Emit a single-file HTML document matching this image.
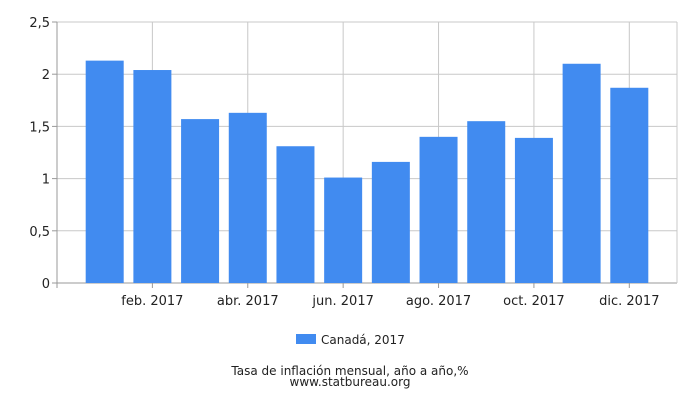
<!DOCTYPE html>
<html><head><meta charset="utf-8"><style>
body{margin:0;background:#fff;}
svg text{font-family:"DejaVu Sans","Liberation Sans",sans-serif;fill:#222;}
</style></head><body>
<svg id="c" width="700" height="400"></svg>
<script>
const categories=["ene. 2017","feb. 2017","mar. 2017","abr. 2017","may. 2017","jun. 2017","jul. 2017","ago. 2017","sep. 2017","oct. 2017","nov. 2017","dic. 2017"];
const values=[2.13,2.04,1.57,1.63,1.31,1.01,1.16,1.40,1.55,1.39,2.10,1.87];
const yTicks=[0,0.5,1,1.5,2,2.5];
const yTickLabels=["0","0,5","1","1,5","2","2,5"];
const svg=document.getElementById('c');
const NS='http://www.w3.org/2000/svg';
const L=57,R=677,T=22,B=283,yMax=2.5;
const slot=(R-L)/(categories.length+1);
const x=i=>L+(i+1)*slot;
const y=v=>B-(v/yMax)*(B-T);
function mk(t,a,p){const e=document.createElementNS(NS,t);for(const k in a)e.setAttribute(k,a[k]);(p||svg).appendChild(e);return e;}
yTicks.forEach((v,i)=>{
 const g=mk('line',{x1:L,x2:R,y1:y(v),y2:y(v),stroke:v===0?'#999':'#c8c8c8','stroke-width':1});
 
 
 mk('line',{x1:L-5,x2:L,y1:y(v),y2:y(v),stroke:'#999'});
 const t=mk('text',{x:L-7,y:y(v)+5,'text-anchor':'end','font-size':13});
 t.textContent=yTickLabels[i];
 
 
});
mk('line',{x1:L,x2:L,y1:T,y2:B,stroke:'#999'});
mk('line',{x1:R,x2:R,y1:T,y2:B,stroke:'#c8c8c8'});
categories.forEach((c,i)=>{
 if(i%2===1){
  mk('line',{x1:x(i),x2:x(i),y1:T,y2:B,stroke:'#c8c8c8'});
  mk('line',{x1:x(i),x2:x(i),y1:B,y2:B+5,stroke:'#999'});
  const t=mk('text',{x:x(i),y:B+22,'text-anchor':'middle','font-size':13});
  t.textContent=c;
  
  
 }
});
mk('line',{x1:L,x2:L,y1:B,y2:B+5,stroke:'#999'});
values.forEach((v,i)=>{
 const r=mk('rect',{x:x(i)-19,y:y(v),width:38,height:B-y(v),fill:'#418bf0'});
 
 
});
const lg=mk('rect',{x:296,y:334,width:20,height:10,fill:'#418bf0'});


const lt=mk('text',{x:321,y:344,'font-size':12});lt.textContent='Canadá, 2017';


const t1=mk('text',{x:350,y:375,'text-anchor':'middle','font-size':12});t1.textContent='Tasa de inflación mensual, año a año,%';


const t2=mk('text',{x:350,y:386,'text-anchor':'middle','font-size':12});t2.textContent='www.statbureau.org';


</script>
</body></html>
